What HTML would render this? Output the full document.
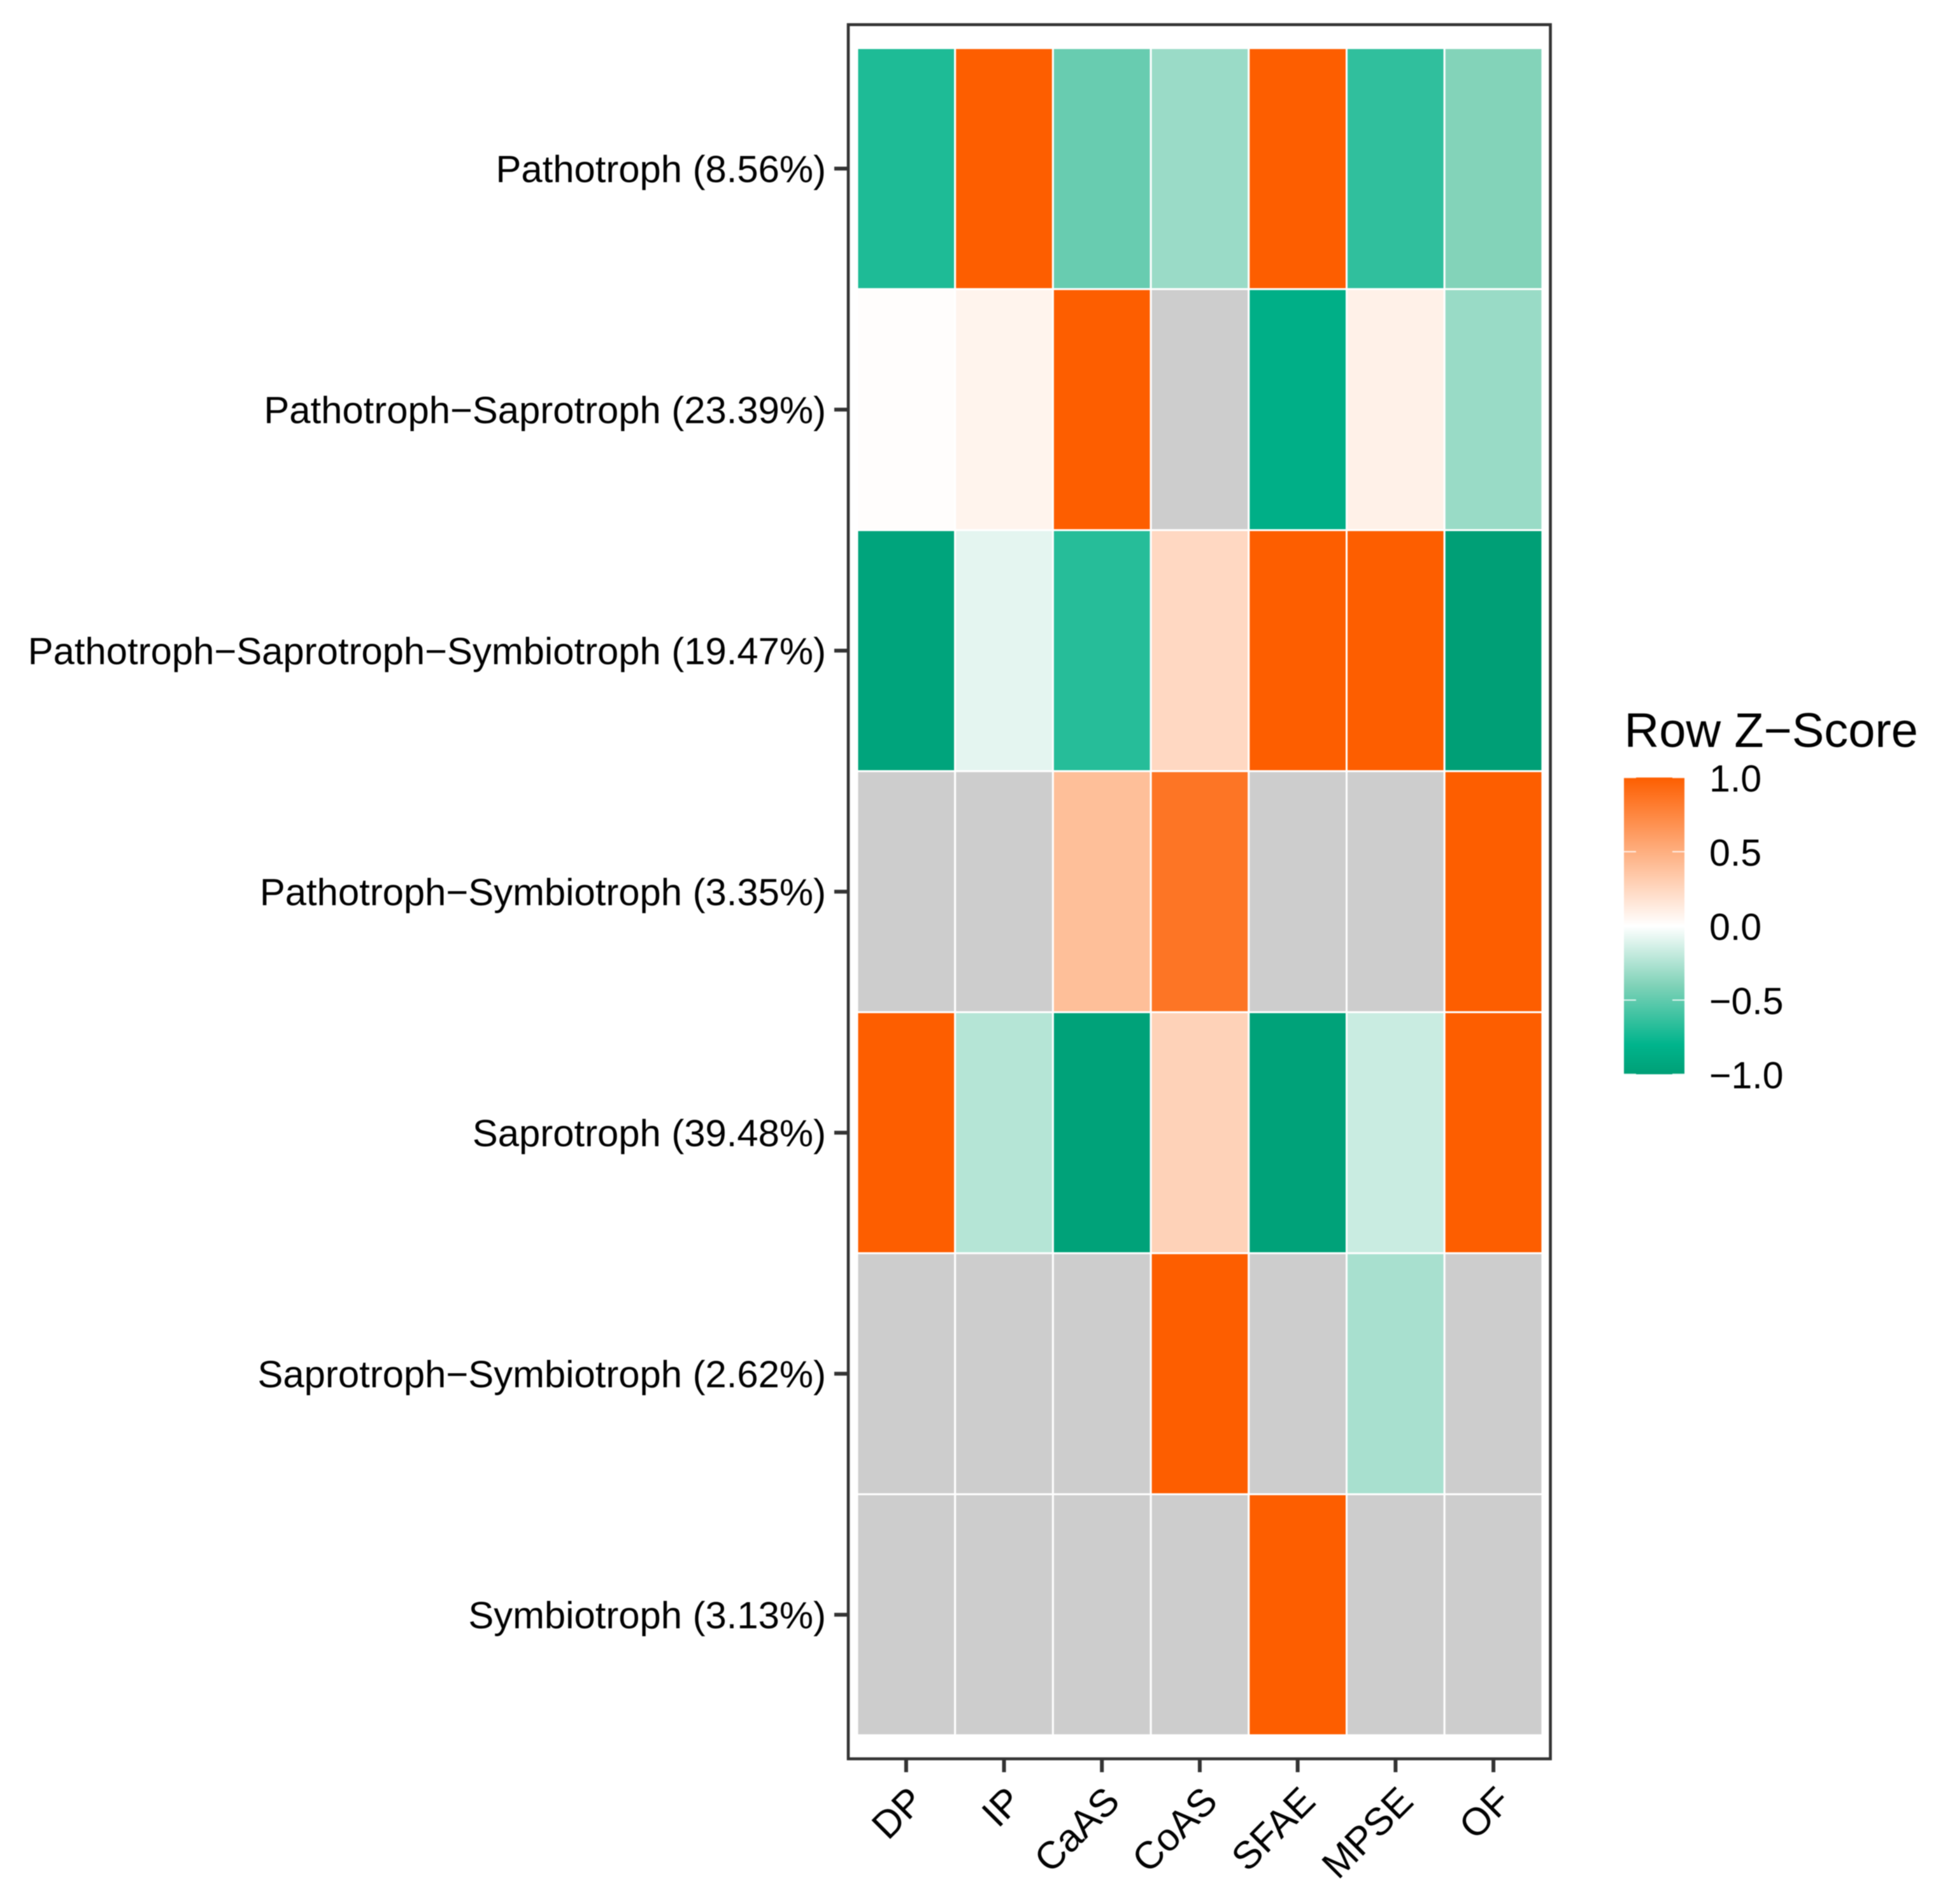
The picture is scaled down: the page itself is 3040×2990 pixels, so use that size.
<!DOCTYPE html>
<html lang="en">
<head>
<meta charset="utf-8">
<title>Row Z-Score heatmap</title>
<style>
html,body{margin:0;padding:0;background:#fff;width:3040px;height:2990px;overflow:hidden}
svg{display:block;font-family:"Liberation Sans",Arial,sans-serif;filter:blur(0.7px)}
</style>
</head>
<body>
<svg id="chart" xmlns="http://www.w3.org/2000/svg" width="3040" height="2990" viewBox="0 0 3040 2990">
<rect x="0" y="0" width="3040" height="2990" fill="#ffffff"/>
<defs>
<linearGradient id="bar-gradient" x1="0" y1="1" x2="0" y2="0"></linearGradient>
</defs>
<g id="tiles"></g>
<rect x="1332" y="38.7" width="1102.5" height="2723.3" fill="none" stroke="#333333" stroke-width="4.6"/>
<g id="y-axis"></g>
<g id="x-axis"></g>
<g id="legend">
<text x="2550.5" y="1173" font-size="75.8" fill="#000">Row Z−Score</text>
<rect id="legend-bar" x="2550" y="1221" width="95" height="466" fill="url(#bar-gradient)"/>
</g>
</svg>
<script>
const columnLabels = ['DP', 'IP', 'CaAS', 'CoAS', 'SFAE', 'MPSE', 'OF'];
const rowLabels = [
  'Pathotroph (8.56%)',
  'Pathotroph−Saprotroph (23.39%)',
  'Pathotroph−Saprotroph−Symbiotroph (19.47%)',
  'Pathotroph−Symbiotroph (3.35%)',
  'Saprotroph (39.48%)',
  'Saprotroph−Symbiotroph (2.62%)',
  'Symbiotroph (3.13%)'
];
const rowPathotroph = [-0.706, 1, -0.474, -0.317, 1, -0.65, -0.392];
const rowPathotrophSaprotroph = [0.01, 0.07, 1, null, -0.85, 0.09, -0.32];
const rowPathSapSym = [-0.95, -0.085, -0.68, 0.24, 1, 1, -1];
const rowPathotrophSymbiotroph = [null, null, 0.4, 0.855, null, null, 1];
const rowSaprotroph = [1, -0.232, -0.97, 0.28, -0.97, -0.17, 1];
const rowSaprotrophSymbiotroph = [null, null, null, 1, null, -0.273, null];
const rowSymbiotroph = [null, null, null, null, 1, null, null];
const legendTicks = [1, 0.5, 0, -0.5, -1];
const legendTickLabels = ['1.0', '0.5', '0.0', '−0.5', '−1.0'];
const colorStopValues = [-1, -0.8, -0.4, 0, 1];
const colorStopColors = [[0, 159, 118], [0, 180, 140], [128, 210, 184], [255, 255, 255], [253, 94, 0]];

const NS = 'http://www.w3.org/2000/svg';
const rowsData = [rowPathotroph, rowPathotrophSaprotroph, rowPathSapSym, rowPathotrophSymbiotroph, rowSaprotroph, rowSaprotrophSymbiotroph, rowSymbiotroph];
const plot = { x0: 1346, colStep: 153.7, y0: 75.5, rowStep: 378.5 };
const bar = { x: 2550, w: 95, top: 1221, bottom: 1687 };
const xBand = i => plot.x0 + i * plot.colStep;
const yBand = j => plot.y0 + j * plot.rowStep;
const legendY = v => bar.bottom - (v + 1) / 2 * (bar.bottom - bar.top);

function colorFor(v) {
  if (v === null) return '#cdcdcd';
  const c = Math.max(-1, Math.min(1, v));
  for (let k = 0; k < colorStopValues.length - 1; k++) {
    if (c <= colorStopValues[k + 1]) {
      const t = (c - colorStopValues[k]) / (colorStopValues[k + 1] - colorStopValues[k]);
      const a = colorStopColors[k], b = colorStopColors[k + 1];
      return 'rgb(' + a.map((q, n) => Math.round(q + (b[n] - q) * t)).join(',') + ')';
    }
  }
  return 'rgb(253,94,0)';
}
function make(tag, attrs, parent) {
  const el = document.createElementNS(NS, tag);
  for (const key in attrs) el.setAttribute(key, attrs[key]);
  parent.appendChild(el);
  return el;
}

const tiles = document.getElementById('tiles');
rowsData.forEach((row, j) => {
  row.forEach((v, i) => {
    const cell = make('rect', { x: xBand(i), y: yBand(j), width: plot.colStep, height: plot.rowStep, fill: colorFor(v), stroke: '#ffffff', 'stroke-width': 3 }, tiles);
    
    
  });
});

const yAxis = document.getElementById('y-axis');
rowLabels.forEach((label, j) => {
  const y = yBand(j) + plot.rowStep / 2;
  const tick = make('line', { x1: 1310, x2: 1331, y1: y, y2: y, stroke: '#333333', 'stroke-width': 6 }, yAxis);
  
  
  const text = make('text', { x: 1297, y: y + 21, 'text-anchor': 'end', 'font-size': 59.8, fill: '#000' }, yAxis);
  text.textContent = label;
  
  
});

const xAxis = document.getElementById('x-axis');
columnLabels.forEach((label, i) => {
  const x = xBand(i) + plot.colStep / 2;
  const tick = make('line', { x1: x, x2: x, y1: 2763, y2: 2783, stroke: '#333333', 'stroke-width': 6 }, xAxis);
  
  
  const bx = x + 31, by = 2832;
  const text = make('text', { x: bx, y: by, 'text-anchor': 'end', 'font-size': 60.5, fill: '#000', transform: 'rotate(-45 ' + bx + ' ' + by + ')' }, xAxis);
  text.textContent = label;
  
  
});

const gradient = document.getElementById('bar-gradient');
colorStopValues.forEach((v, k) => {
  const c = colorStopColors[k];
  make('stop', { offset: (v + 1) / 2, 'stop-color': 'rgb(' + c.join(',') + ')' }, gradient);
});

const legend = document.getElementById('legend');
legendTicks.forEach((v, k) => {
  const y = legendY(v);
  [[bar.x, bar.x + 19], [bar.x + bar.w - 19, bar.x + bar.w]].forEach(pair => {
    const tick = make('line', { x1: pair[0], x2: pair[1], y1: y, y2: y, stroke: '#ffffff', 'stroke-opacity': 0.8, 'stroke-width': 2 }, legend);
    
    
  });
  const text = make('text', { x: 2684, y: y + 22, 'font-size': 59, fill: '#000' }, legend);
  text.textContent = legendTickLabels[k];
  
  
});
</script>
</body>
</html>
